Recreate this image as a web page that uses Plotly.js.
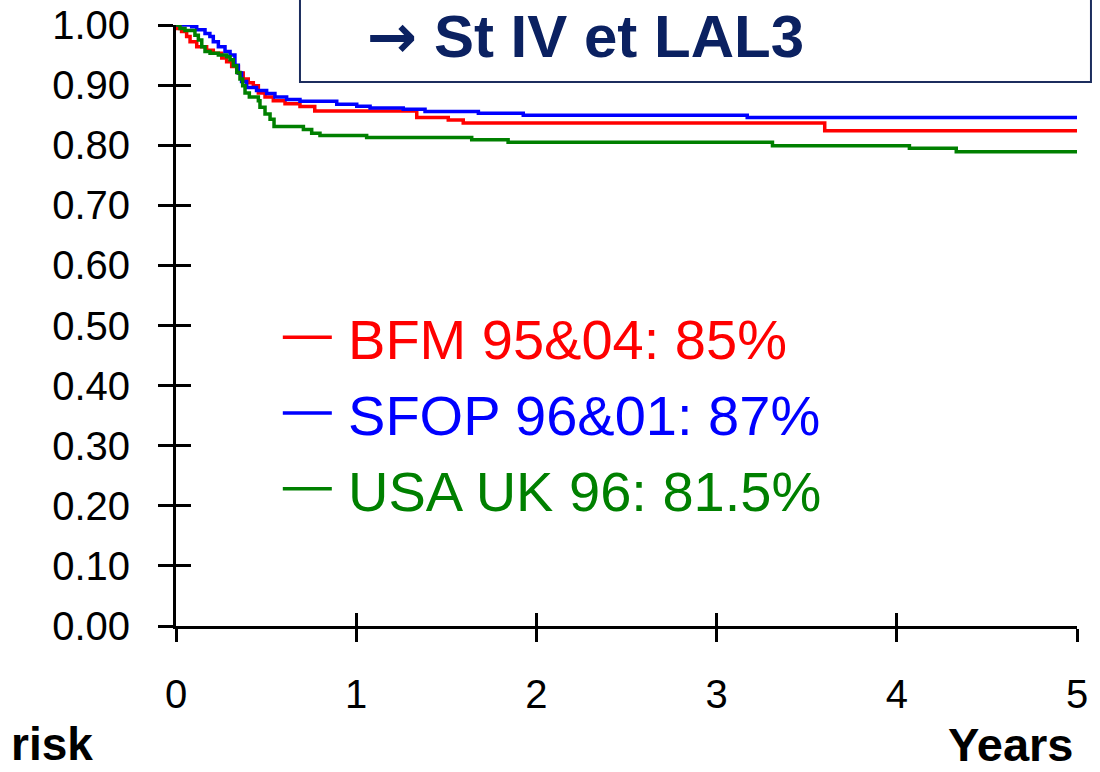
<!DOCTYPE html>
<html>
<head>
<meta charset="utf-8">
<script src="https://cdn.plot.ly/plotly-3.0.1.min.js"></script>
<style>html,body{margin:0;padding:0;background:#fff;}#chart{width:1100px;height:772px;}</style>
</head>
<body>
<div id="chart"></div>
<script>
// Kaplan-Meier step data (years, survival)
const bfmT  = [0, 0.009, 0.031, 0.059, 0.078, 0.115, 0.170, 0.207, 0.254, 0.281, 0.309, 0.346, 0.373, 0.401, 0.429, 0.457, 0.494, 0.540, 0.605, 0.688, 0.770, 1.336, 1.511, 1.594, 3.600, 5.0];
const bfmS  = [1.0, 0.994, 0.989, 0.981, 0.972, 0.964, 0.958, 0.953, 0.945, 0.939, 0.931, 0.920, 0.910, 0.904, 0.899, 0.887, 0.880, 0.874, 0.869, 0.8645, 0.857, 0.846, 0.842, 0.837, 0.824, 0.824];
const sfopT = [0, 0.087, 0.115, 0.161, 0.188, 0.207, 0.235, 0.272, 0.300, 0.327, 0.346, 0.364, 0.392, 0.447, 0.503, 0.549, 0.614, 0.688, 0.892, 1.003, 1.077, 1.261, 1.382, 1.678, 1.927, 3.17, 5.0];
const sfopS = [1.0, 0.997, 0.992, 0.986, 0.981, 0.972, 0.964, 0.956, 0.950, 0.933, 0.920, 0.906, 0.896, 0.891, 0.886, 0.880, 0.876, 0.873, 0.868, 0.865, 0.862, 0.860, 0.856, 0.853, 0.850, 0.846, 0.846];
const usaT  = [0, 0.022, 0.050, 0.105, 0.124, 0.143, 0.161, 0.189, 0.235, 0.281, 0.300, 0.318, 0.337, 0.355, 0.370, 0.383, 0.407, 0.457, 0.466, 0.494, 0.522, 0.544, 0.707, 0.753, 0.799, 1.058, 1.641, 1.843, 3.31, 4.07, 4.33, 5.0];
const usaS  = [1.0, 0.994, 0.991, 0.983, 0.975, 0.964, 0.956, 0.953, 0.950, 0.947, 0.942, 0.932, 0.921, 0.910, 0.899, 0.887, 0.880, 0.874, 0.863, 0.852, 0.843, 0.831, 0.826, 0.820, 0.816, 0.813, 0.809, 0.805, 0.799, 0.795, 0.789, 0.789];

const seriesNames  = ['BFM 95&04: 85%', 'SFOP 96&01: 87%', 'USA UK 96: 81.5%'];
const seriesColors = ['#ff0000', '#0000ff', '#008000'];
const yTickVals = [0, 0.1, 0.2, 0.3, 0.4, 0.5, 0.6, 0.7, 0.8, 0.9, 1.0];
const yTickText = ['0.00','0.10','0.20','0.30','0.40','0.50','0.60','0.70','0.80','0.90','1.00'];
const xTickVals = [0, 1, 2, 3, 4, 5];
const titleArrow = '\u2192';
const titleText = 'St IV et LAL3';
const xLabel = 'Years';
const leftLabel = 'risk';

const FONT = 'Liberation Sans, Arial, Helvetica, sans-serif';
const xs = [bfmT, sfopT, usaT], ys = [bfmS, sfopS, usaS];
const traces = xs.map((x, i) => ({
  x: x, y: ys[i], type: 'scatter', mode: 'lines',
  line: {shape: 'hv', color: seriesColors[i], width: 3.5},
  name: '<span style="color:' + seriesColors[i] + '">\u2009' + seriesNames[i] + '</span>',
  hoverinfo: 'x+y'
}));
// invisible trace to activate crossing-tick overlay axes
traces.push({x: [0], y: [0], xaxis: 'x2', yaxis: 'y2', mode: 'markers', marker: {opacity: 0}, showlegend: false, hoverinfo: 'skip'});

const layout = {
  width: 1100, height: 772,
  margin: {l: 176, r: 23, t: 25, b: 146},
  paper_bgcolor: '#fff', plot_bgcolor: '#fff',
  font: {family: FONT, color: '#000', size: 40},
  showlegend: true,
  legend: {x: 0.113, y: 0.552, xanchor: 'left', yanchor: 'top', bgcolor: 'rgba(0,0,0,0)',
           font: {family: FONT, size: 56}, tracegroupgap: 0, itemwidth: 49},
  xaxis: {range: [0, 5], tickvals: xTickVals, ticks: 'outside', ticklen: 13, tickwidth: 3,
          tickcolor: '#000', showline: true, linecolor: '#000', linewidth: 3, showgrid: false,
          zeroline: false, tickfont: {size: 40, family: FONT}, ticklabelstandoff: 18, fixedrange: true},
  yaxis: {range: [0, 1], tickvals: yTickVals, ticktext: yTickText, ticks: 'outside', ticklen: 15,
          tickwidth: 3, tickcolor: '#000', showline: true, linecolor: '#000', linewidth: 3,
          showgrid: false, zeroline: false, tickfont: {size: 40, family: FONT}, ticklabelstandoff: 20, fixedrange: true},
  xaxis2: {overlaying: 'x', matches: 'x', range: [0, 5], tickvals: xTickVals, ticks: 'inside', ticklen: 13,
           tickwidth: 3, tickcolor: '#000', showticklabels: false, showline: false, showgrid: false,
           zeroline: false, side: 'bottom', anchor: 'y2'},
  yaxis2: {overlaying: 'y', range: [0, 1], tickvals: yTickVals, ticks: 'inside', ticklen: 15,
           tickwidth: 3, tickcolor: '#000', showticklabels: false, showline: false, showgrid: false,
           zeroline: false, side: 'left', anchor: 'x2'},
  shapes: [{type: 'rect', xref: 'paper', yref: 'paper', x0: 0.1376, x1: 1.0155, y0: 0.905, y1: 1.06,
            line: {color: '#1c2d5e', width: 2}, fillcolor: 'rgba(0,0,0,0)', layer: 'above'}],
  annotations: [
    {text: '<b><span style="font-family:DejaVu Sans">' + titleArrow + '</span> ' + titleText + '</b>',
     xref: 'paper', yref: 'paper', x: 0.2098, y: 0.9817,
     xanchor: 'left', yanchor: 'middle', showarrow: false, font: {family: FONT, size: 60, color: '#0b2161'}},
    {text: '<b>' + xLabel + '</b>', xref: 'paper', yref: 'paper', x: 0.9978, y: -0.198,
     xanchor: 'right', yanchor: 'middle', showarrow: false, font: {family: FONT, size: 47, color: '#000'}},
    {text: '<b>' + leftLabel + '</b>', xref: 'paper', yref: 'paper', x: -0.0899, y: -0.1963,
     xanchor: 'right', yanchor: 'middle', showarrow: false, font: {family: FONT, size: 46, color: '#000'}}
  ]
};
Plotly.newPlot('chart', traces, layout, {displayModeBar: false, staticPlot: true});
</script>
</body>
</html>
